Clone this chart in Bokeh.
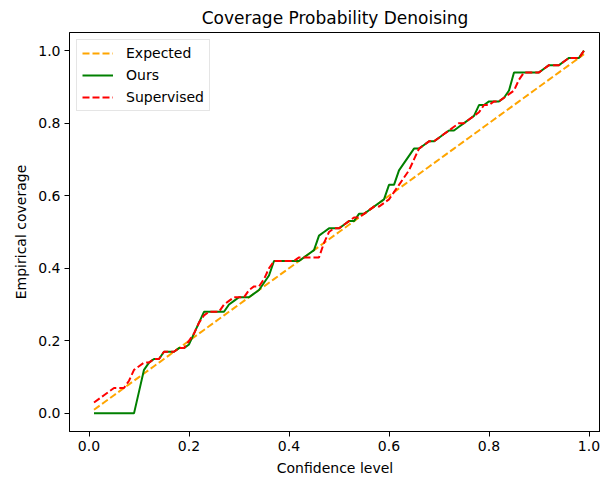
from bokeh.plotting import figure
from bokeh.models import FixedTicker, Range1d, PrintfTickFormatter
from bokeh.embed import file_html
from bokeh.resources import INLINE

confidence = [0.01, 0.02, 0.03, 0.04, 0.05, 0.06, 0.07, 0.08, 0.09,
              0.10, 0.11, 0.12, 0.13, 0.14, 0.15, 0.16, 0.17, 0.18, 0.19,
              0.20, 0.21, 0.22, 0.23, 0.24, 0.25, 0.26, 0.27, 0.28, 0.29,
              0.30, 0.31, 0.32, 0.33, 0.34, 0.35, 0.36, 0.37, 0.38, 0.39,
              0.40, 0.41, 0.42, 0.43, 0.44, 0.45, 0.46, 0.47, 0.48, 0.49,
              0.50, 0.51, 0.52, 0.53, 0.54, 0.55, 0.56, 0.57, 0.58, 0.59,
              0.60, 0.61, 0.62, 0.63, 0.64, 0.65, 0.66, 0.67, 0.68, 0.69,
              0.70, 0.71, 0.72, 0.73, 0.74, 0.75, 0.76, 0.77, 0.78, 0.79,
              0.80, 0.81, 0.82, 0.83, 0.84, 0.85, 0.86, 0.87, 0.88, 0.89,
              0.90, 0.91, 0.92, 0.93, 0.94, 0.95, 0.96, 0.97, 0.98, 0.99]

expected = confidence

ours = [0.00, 0.00, 0.00, 0.00, 0.00, 0.00, 0.00, 0.00, 0.00,
        0.06, 0.12, 0.14, 0.15, 0.15, 0.17, 0.17, 0.17, 0.18, 0.18,
        0.19, 0.22, 0.25, 0.28, 0.28, 0.28, 0.28, 0.28, 0.30, 0.31,
        0.32, 0.32, 0.32, 0.33, 0.34, 0.36, 0.38, 0.42, 0.42, 0.42,
        0.42, 0.42, 0.42, 0.43, 0.44, 0.45, 0.49, 0.50, 0.51, 0.51,
        0.51, 0.52, 0.53, 0.53, 0.55, 0.55, 0.56, 0.57, 0.58, 0.59,
        0.63, 0.63, 0.67, 0.69, 0.71, 0.73, 0.73, 0.74, 0.75, 0.75,
        0.76, 0.77, 0.78, 0.78, 0.79, 0.80, 0.81, 0.82, 0.85, 0.85,
        0.86, 0.86, 0.86, 0.87, 0.89, 0.94, 0.94, 0.94, 0.94, 0.94,
        0.94, 0.95, 0.96, 0.96, 0.96, 0.97, 0.98, 0.98, 0.98, 1.00]

supervised = [0.03, 0.04, 0.05, 0.06, 0.07, 0.07, 0.07, 0.09, 0.12,
              0.13, 0.14, 0.14, 0.15, 0.15, 0.17, 0.17, 0.17, 0.18, 0.18,
              0.20, 0.22, 0.25, 0.27, 0.28, 0.28, 0.28, 0.30, 0.31, 0.32,
              0.32, 0.32, 0.34, 0.35, 0.35, 0.37, 0.40, 0.42, 0.42, 0.42,
              0.42, 0.42, 0.43, 0.43, 0.43, 0.43, 0.43, 0.47, 0.50, 0.51,
              0.51, 0.52, 0.53, 0.54, 0.54, 0.55, 0.56, 0.57, 0.57, 0.58,
              0.59, 0.61, 0.63, 0.65, 0.67, 0.70, 0.73, 0.74, 0.75, 0.75,
              0.76, 0.77, 0.78, 0.79, 0.80, 0.80, 0.81, 0.82, 0.83, 0.85,
              0.85, 0.86, 0.86, 0.87, 0.88, 0.89, 0.92, 0.94, 0.94, 0.94,
              0.94, 0.95, 0.96, 0.96, 0.96, 0.97, 0.98, 0.98, 0.98, 1.00]

tick_values = [0.0, 0.2, 0.4, 0.6, 0.8, 1.0]

FONT = "DejaVu Sans"

p = figure(width=600, height=479, output_backend="svg", toolbar_location=None,
           x_range=Range1d(-0.039, 1.023), y_range=Range1d(-0.05, 1.05),
           title="Coverage Probability Denoising",
           min_border_left=69, min_border_right=0, min_border_top=32,
           min_border_bottom=48)

p.title.text_font = FONT
p.title.text_font_size = "17px"
p.title.text_font_style = "normal"
p.title.align = "center"
p.title.text_color = "black"
p.title.standoff = 10

p.line(confidence, expected, line_color="orange", line_width=2,
       line_dash="7 3", legend_label="Expected")
p.line(confidence, ours, line_color="green", line_width=2,
       legend_label="Ours")
p.line(confidence, supervised, line_color="red", line_width=2,
       line_dash="7 3", legend_label="Supervised")

for ax in (p.xaxis[0], p.yaxis[0]):
    ax.ticker = FixedTicker(ticks=tick_values)
    ax.formatter = PrintfTickFormatter(format="%.1f")
    ax.major_label_text_font = FONT
    ax.major_label_text_font_size = "14px"
    ax.major_label_text_color = "black"
    ax.axis_label_text_font = FONT
    ax.axis_label_text_font_size = "14px"
    ax.axis_label_text_font_style = "normal"
    ax.axis_label_text_color = "black"
    ax.axis_line_color = "black"
    ax.major_tick_line_color = "black"
    ax.major_tick_out = 5
    ax.major_tick_in = 0
    ax.minor_tick_line_color = None
    ax.major_label_standoff = 4
    ax.axis_label_standoff = 6

p.xaxis.axis_label = "Confidence level"
p.yaxis.axis_label = "Empirical coverage"

p.xgrid.visible = False
p.ygrid.visible = False
p.outline_line_color = "black"
p.outline_line_width = 1
p.background_fill_color = "white"
p.border_fill_color = "white"

lg = p.legend[0]
lg.location = "top_left"
lg.label_text_font = FONT
lg.label_text_font_size = "14px"
lg.label_text_color = "black"
lg.glyph_width = 31
lg.glyph_height = 14
lg.label_height = 14
lg.label_standoff = 13
lg.spacing = 6
lg.padding = 5
lg.margin = 7
lg.border_line_color = "#cccccc"
lg.border_line_width = 1
lg.background_fill_alpha = 0.8

open("out.html", "w").write(file_html(p, INLINE))
